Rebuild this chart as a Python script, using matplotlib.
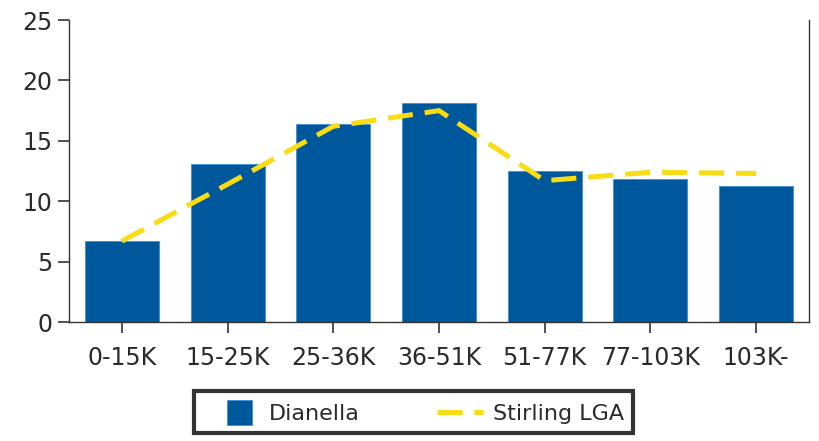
import matplotlib
matplotlib.use("Agg")
import matplotlib.pyplot as plt
from matplotlib.patches import Rectangle
from matplotlib.lines import Line2D
import numpy as np

# income brackets and percentages
brackets = ["0-15K", "15-25K", "25-36K", "36-51K", "51-77K", "77-103K", "103K-"]
dianella = [6.7, 13.1, 16.4, 18.1, 12.5, 11.8, 11.3]
stirling = [6.7, 11.4, 16.2, 17.5, 11.7, 12.4, 12.3]

BLUE = "#00589C"
YELLOW = "#FADC14"
DASH = (5, 2.4)


# legend handles: square patch and short dash, both sitting right in a wide handle box
class SquareHandler:
    def legend_artist(self, legend, orig_handle, fontsize, handlebox):
        x0, y0 = -handlebox.xdescent, -handlebox.ydescent
        h = handlebox.height
        p = Rectangle((x0 + 17.3, y0), h, h, facecolor=BLUE, edgecolor="#3D8FD6", lw=0.6)
        handlebox.add_artist(p)
        return p


class DashHandler:
    def legend_artist(self, legend, orig_handle, fontsize, handlebox):
        x0, y0 = -handlebox.xdescent, -handlebox.ydescent
        h = handlebox.height
        l = Line2D([x0 + 7.2, x0 + 40.3], [y0 + h / 2] * 2, color=YELLOW, lw=3.6, dashes=DASH)
        handlebox.add_artist(l)
        return l


fig = plt.figure(figsize=(8.19, 4.41), dpi=100)
ax = fig.add_axes([0.0842, 0.2698, 0.9036, 0.6848])

x = np.arange(len(brackets))
bars = ax.bar(x, dianella, width=0.70, color=BLUE, edgecolor="#3D8FD6",
              linewidth=0.6, label="Dianella", zorder=2)
line, = ax.plot(x, stirling, color=YELLOW, linewidth=3.6, dashes=DASH,
                label="Stirling LGA", zorder=3)

ax.set_xlim(-0.5, 6.5)
ax.set_ylim(0, 25)
ax.set_yticks([0, 5, 10, 15, 20, 25])
ax.set_xticks(x)
ax.set_xticklabels(brackets)

ax.spines['top'].set_visible(False)
for s in ['left', 'bottom', 'right']:
    ax.spines[s].set_color("#333333")
    ax.spines[s].set_linewidth(1.0)
ax.tick_params(axis='both', direction='out', length=8, width=1.2, color="#333333",
               labelsize=17, labelcolor="#2a2a2a")
ax.tick_params(axis='x', pad=9)
ax.tick_params(axis='y', pad=4)

leg = fig.legend(handles=[bars, line], loc='center', bbox_to_anchor=(0.505, 0.0655),
                 ncol=2, frameon=True, fancybox=False, fontsize=16,
                 handlelength=2.7, handleheight=1.35, columnspacing=3.0,
                 borderpad=0.4, handletextpad=0.27,
                 handler_map={bars: SquareHandler(), line: DashHandler()})
leg.get_frame().set_edgecolor("black")
leg.get_frame().set_linewidth(3)
for t in leg.get_texts():
    t.set_color("#2a2a2a")

fig.savefig("out.png", dpi=100)
